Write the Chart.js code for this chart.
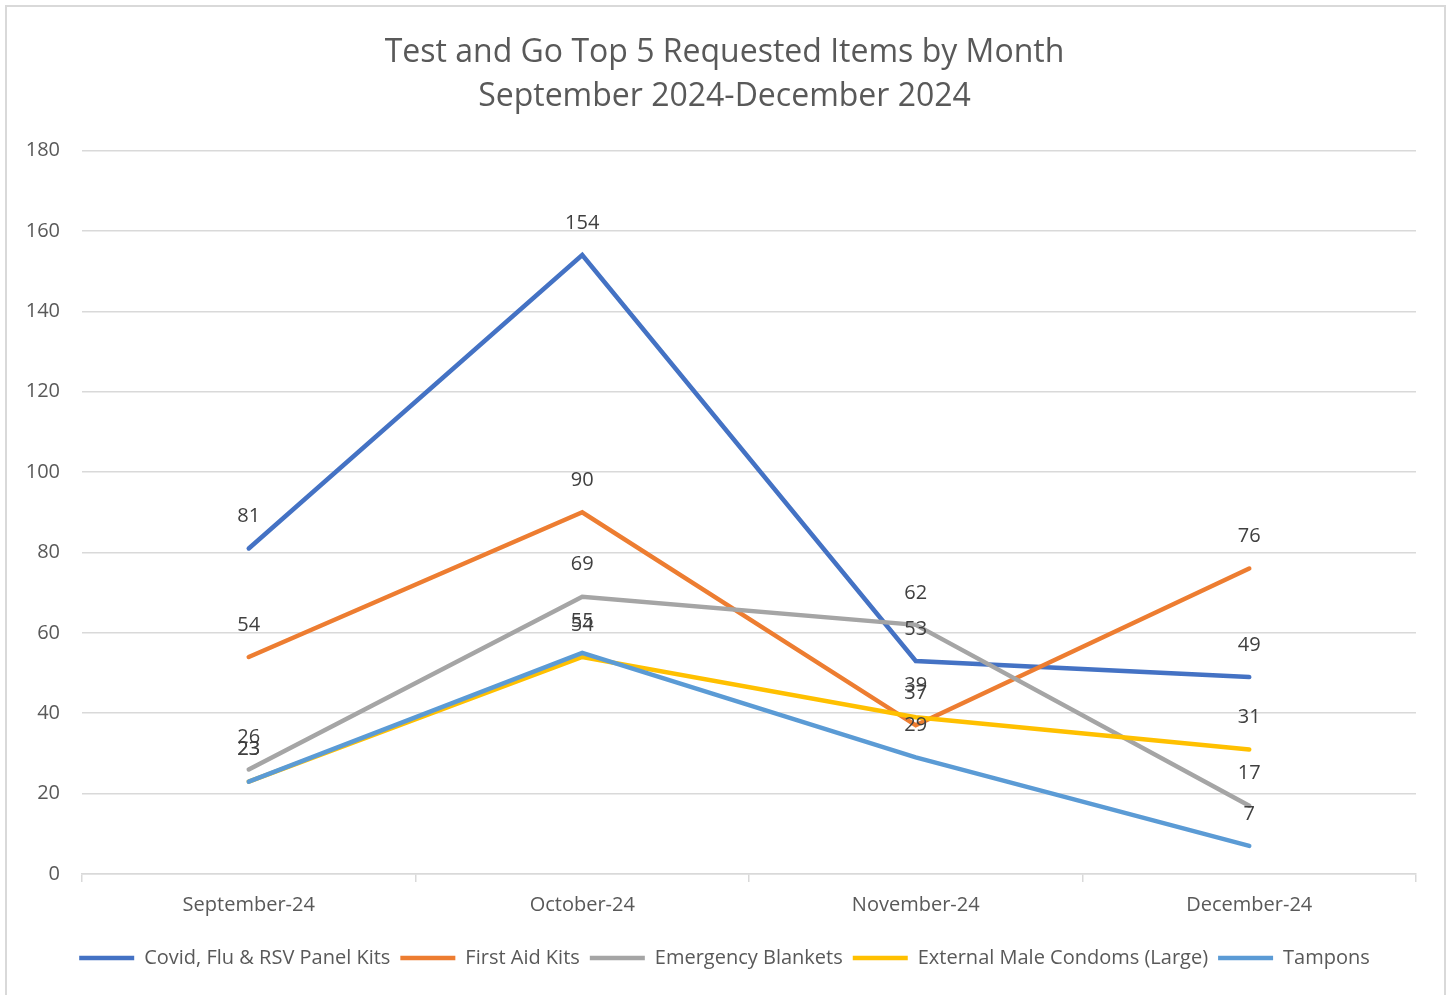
<!doctype html>
<html>
<head>
<script src="https://cdn.jsdelivr.net/npm/chart.js"></script>
<style>
  html, body { margin: 0; padding: 0; background: #fff; }
  #wrap { width: 1449px; height: 995px; }
</style>
</head>
<body>
<div id="wrap"><canvas id="chart"></canvas></div>
<script>
// --- data ---
const months = ['September-24', 'October-24', 'November-24', 'December-24'];
const covidKits = [81, 154, 53, 49];
const firstAid = [54, 90, 37, 76];
const blankets = [26, 69, 62, 17];
const condoms = [23, 54, 39, 31];
const tampons = [23, 55, 29, 7];
const seriesNames = ['Covid, Flu & RSV Panel Kits', 'First Aid Kits', 'Emergency Blankets', 'External Male Condoms (Large)', 'Tampons'];
const yTicks = [0, 20, 40, 60, 80, 100, 120, 140, 160, 180];

const colors = ['#4472C4', '#ED7D31', '#A5A5A5', '#FFC000', '#5B9BD5'];
const FONT = "'Open Sans', sans-serif";

const allSeries = [covidKits, firstAid, blankets, condoms, tampons];
const datasets = allSeries.map(function (vals, i) {
    return {
        label: seriesNames[i],
        data: vals,
        borderColor: colors[i],
        backgroundColor: colors[i],
        borderWidth: 4.5,
        borderCapStyle: 'round',
        borderJoinStyle: 'miter',
        pointRadius: 0,
        pointStyle: 'line',
        tension: 0,
        order: allSeries.length - i
    };
});

// value labels above each point, like Excel's data labels
const valueLabels = {
    id: 'valueLabels',
    afterDatasetsDraw(chart) {
        const ctx = chart.ctx;
        ctx.save();
        ctx.font = '20px ' + FONT;
        ctx.fillStyle = '#404040';
        ctx.textAlign = 'center';
        ctx.textBaseline = 'middle';
        chart.data.datasets.forEach(function (ds, i) {
            chart.getDatasetMeta(i).data.forEach(function (pt, j) {
                ctx.fillText(ds.data[j], pt.x, pt.y - 32);
            });
        });
        ctx.restore();
    }
};

const frame = {
    id: 'frame',
    beforeDraw(chart) {
        const ctx = chart.ctx;
        ctx.save();
        ctx.fillStyle = '#fff';
        ctx.fillRect(0, 0, chart.width, chart.height);
        ctx.strokeStyle = '#d9d9d9';
        ctx.lineWidth = 2;
        ctx.strokeRect(6, 6, 1439, 995);
        ctx.restore();
    }
};

new Chart(document.getElementById('chart'), {
    type: 'line',
    data: { labels: months, datasets: datasets },
    plugins: [frame, valueLabels],
    options: {
        responsive: true,
        maintainAspectRatio: false,
        animation: false,
        layout: { padding: { left: 21.5, right: 21.5, top: 0, bottom: 17 } },
        plugins: {
            tooltip: { enabled: false },
            title: {
                display: true,
                text: ['Test and Go Top 5 Requested Items by Month', 'September 2024-December 2024'],
                color: '#595959',
                font: { family: FONT, size: 32, weight: 'normal', lineHeight: 1.4 },
                padding: { top: 30, bottom: 31 }
            },
            legend: {
                position: 'bottom',
                labels: {
                    usePointStyle: true,
                    pointStyleWidth: 55,
                    color: '#595959',
                    font: { family: FONT, size: 20 },
                    padding: 10,
                    sort: function (a, b) { return a.datasetIndex - b.datasetIndex; }
                }
            }
        },
        scales: {
            x: {
                offset: true,
                grid: { drawOnChartArea: false, color: '#d9d9d9', lineWidth: 1.5, tickLength: 8, offset: true },
                border: { color: '#d9d9d9', width: 1.5 },
                ticks: { color: '#595959', font: { family: FONT, size: 20 }, padding: 11, maxRotation: 0 },
                afterFit: function (scale) { scale.height = 64; }
            },
            y: {
                min: 0,
                max: 180,
                afterBuildTicks: function (scale) { scale.ticks = yTicks.map(function (v) { return { value: v }; }); },
                grid: { color: '#d9d9d9', lineWidth: 1.5, drawTicks: false },
                border: { display: false },
                ticks: { color: '#595959', font: { family: FONT, size: 20 }, padding: 22 },
                afterFit: function (scale) { scale.width = 60.5; }
            },
            // empty spacer on the right so the title and legend stay centred on the page
            spacer: {
                type: 'linear',
                position: 'right',
                grid: { display: false },
                border: { display: false },
                ticks: { display: false },
                afterFit: function (scale) { scale.width = 11.5; }
            }
        }
    }
});
</script>
</body>
</html>
